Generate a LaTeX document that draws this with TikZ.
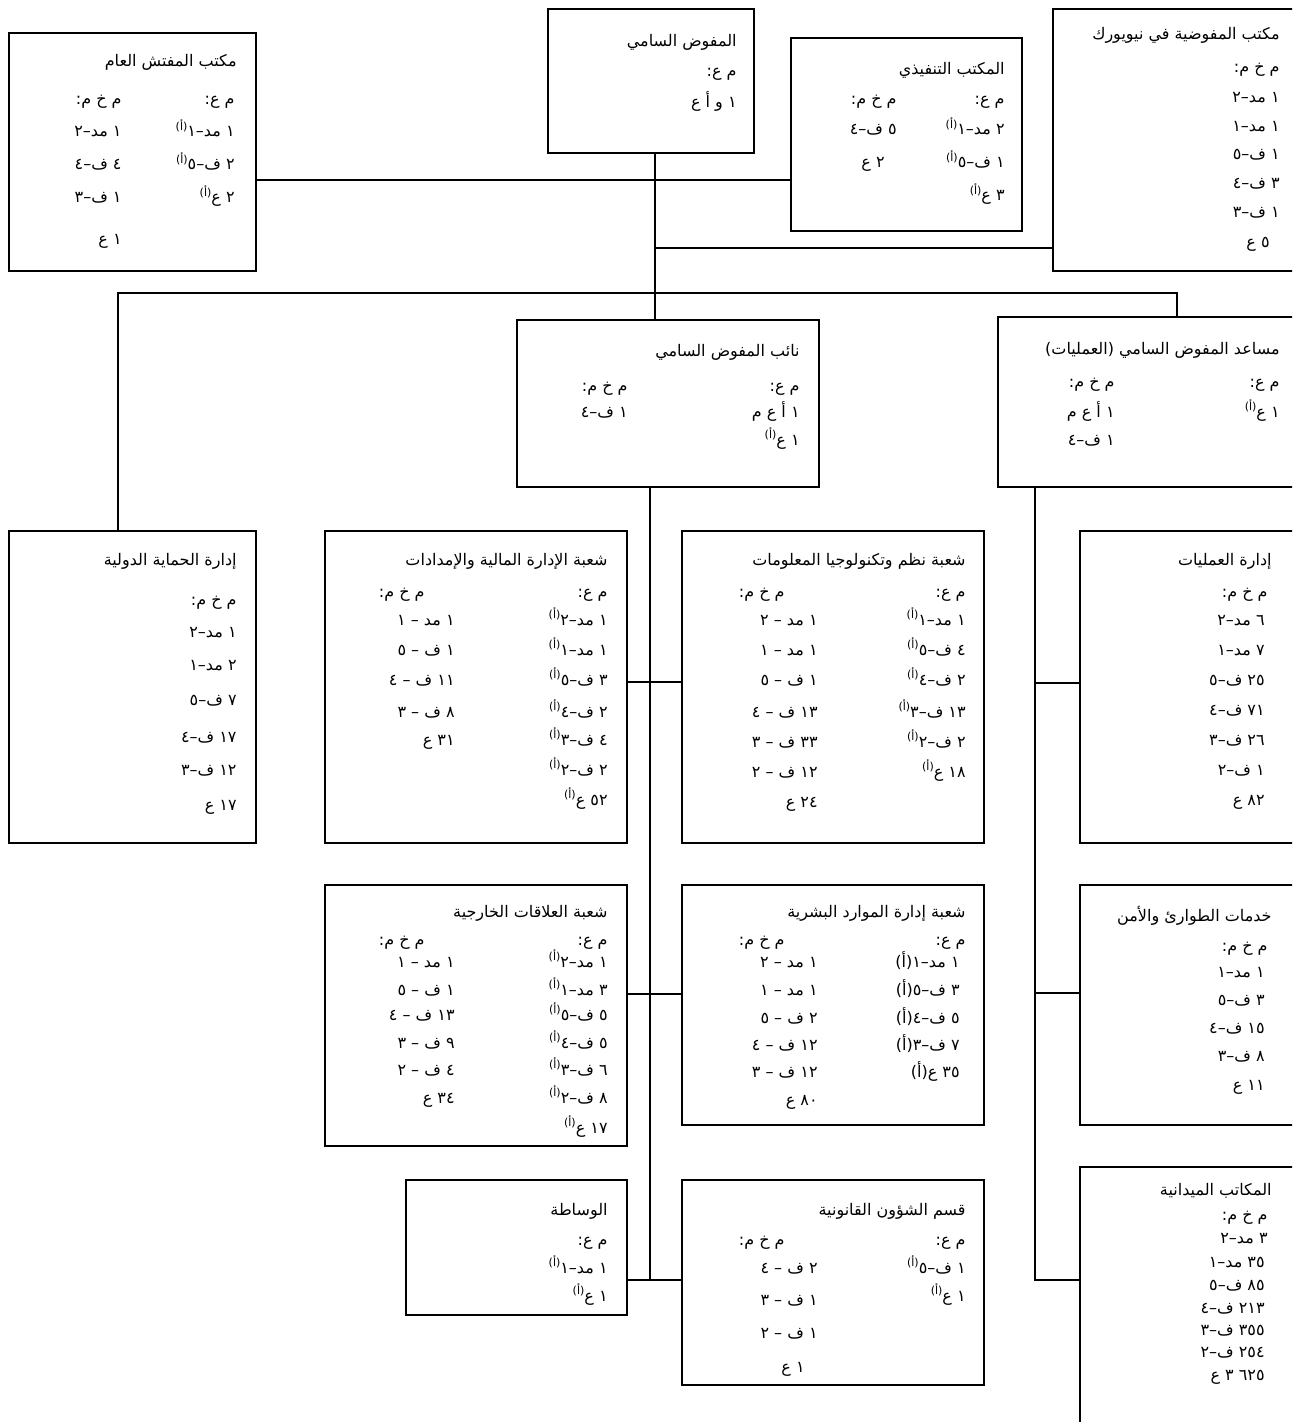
\documentclass[tikz,border=0pt]{standalone}
\usepackage{fontspec}
\TeXXeTstate=1
\newfontfamily\arabicfont[Script=Arabic]{DejaVu Sans}
\newcommand\footA{\raisebox{0.7ex}{\fontsize{5.5}{6}\selectfont(أ)}}
\newcommand\txtset[2]{\foreach \xx/\yy/\lbltext [count=\i] in {#2} {\node[lbl] (#1\i) at (\xx,{\yy+5}) {\lbltext};}}
\newcommand\bx[5]{\node[box, minimum width={(#4-#2)*0.5pt}, minimum height={(#5-#3)*0.5pt}] (#1) at ({(#2+#4)/2},{(#3+#5)/2}) {};}
\begin{document}
\begin{tikzpicture}[x=0.5pt,y=-0.5pt,
  lbl/.style={anchor=base east, inner sep=0pt, font=\arabicfont\fontsize{8}{9}\selectfont},
  box/.style={draw, line width=1pt, inner sep=0pt},
  conn/.style={line width=1pt}]
\useasboundingbox (0,0) rectangle (1292,1422);
\clip (0,0) rectangle (1292,1422);
% boxes
\bx{ig}{9}{33}{256}{271}
\bx{hc}{548}{9}{754}{153}
\bx{eo}{791}{38}{1022}{231}
\bx{ny}{1053}{9}{1320}{271}
\bx{dhc}{517}{320}{819}{487}
\bx{ahc}{998}{317}{1320}{487}
\bx{dip}{9}{531}{256}{843}
\bx{dfam}{325}{531}{627}{843}
\bx{dist}{682}{531}{984}{843}
\bx{dos}{1080}{531}{1320}{843}
\bx{der}{325}{885}{627}{1146}
\bx{dhrm}{682}{885}{984}{1125}
\bx{ess}{1080}{885}{1320}{1125}
\bx{med}{406}{1180}{627}{1315}
\bx{las}{682}{1180}{984}{1385}
\bx{fo}{1080}{1167}{1320}{1450}
% texts
\txtset{igt}{237/62/\beginR مكتب المفتش العام\endR, 235/100/\beginR م ع:\endR, 122/100/\beginR م خ م:\endR, 235/132/\beginR ١ مد–١\footA\endR, 122/132/\beginR ١ مد–٢\endR, 235/165/\beginR ٢ ف–٥\footA\endR, 122/165/\beginR ٤ ف–٤\endR, 235/198/\beginR ٢ ع\footA\endR, 122/198/\beginR ١ ف–٣\endR, 122/240/\beginR ١ ع\endR}
\txtset{hct}{737/42/\beginR المفوض السامي\endR, 737/72/\beginR م ع:\endR, 737/103/\beginR ١ و أ ع\endR}
\txtset{eot}{1005/70/\beginR المكتب التنفيذي\endR, 1005/100/\beginR م ع:\endR, 897/100/\beginR م خ م:\endR, 1005/130/\beginR ٢ مد–١\footA\endR, 897/130/\beginR ٥ ف–٤\endR, 1005/163/\beginR ١ ف–٥\footA\endR, 885/163/\beginR ٢ ع\endR, 1005/196/\beginR ٣ ع\footA\endR}
\txtset{nyt}{1280/35/\beginR مكتب المفوضية في نيويورك\endR, 1280/68/\beginR م خ م:\endR, 1280/98/\beginR ١ مد–٢\endR, 1280/127/\beginR ١ مد–١\endR, 1280/155/\beginR ١ ف–٥\endR, 1280/184/\beginR ٣ ف–٤\endR, 1280/213/\beginR ١ ف–٣\endR, 1270/243/\beginR ٥ ع\endR}
\txtset{dhct}{800/352/\beginR نائب المفوض السامي\endR, 800/387/\beginR م ع:\endR, 628/387/\beginR م خ م:\endR, 800/413/\beginR ١ أ ع م\endR, 628/413/\beginR ١ ف–٤\endR, 800/440/\beginR ١ ع\footA\endR}
\txtset{ahct}{1280/350/\beginR مساعد المفوض السامي (العمليات)\endR, 1280/383/\beginR م ع:\endR, 1115/383/\beginR م خ م:\endR, 1280/412/\beginR ١ ع\footA\endR, 1115/412/\beginR ١ أ ع م\endR, 1115/440/\beginR ١ ف–٤\endR}
\txtset{dipt}{237/560/\beginR إدارة الحماية الدولية\endR, 237/600/\beginR م خ م:\endR, 237/632/\beginR ١ مد–٢\endR, 237/665/\beginR ٢ مد–١\endR, 237/700/\beginR ٧ ف–٥\endR, 237/737/\beginR ١٧ ف–٤\endR, 237/770/\beginR ١٢ ف–٣\endR, 237/805/\beginR ١٧ ع\endR}
\txtset{dfamt}{608/560/\beginR شعبة الإدارة المالية والإمدادات\endR, 608/592/\beginR م ع:\endR, 425/592/\beginR م خ م:\endR, 608/620/\beginR ١ مد–٢\footA\endR, 608/650/\beginR ١ مد–١\footA\endR, 608/680/\beginR ٣ ف–٥\footA\endR, 608/712/\beginR ٢ ف–٤\footA\endR, 608/740/\beginR ٤ ف–٣\footA\endR, 608/770/\beginR ٢ ف–٢\footA\endR, 608/800/\beginR ٥٢ ع\footA\endR, 455/620/\beginR ١ مد – ١\endR, 455/650/\beginR ١ ف – ٥\endR, 455/680/\beginR ١١ ف – ٤\endR, 455/712/\beginR ٨ ف – ٣\endR, 455/740/\beginR ٣١ ع\endR}
\txtset{distt}{966/560/\beginR شعبة نظم وتكنولوجيا المعلومات\endR, 966/592/\beginR م ع:\endR, 785/592/\beginR م خ م:\endR, 966/620/\beginR ١ مد–١\footA\endR, 966/650/\beginR ٤ ف–٥\footA\endR, 966/680/\beginR ٢ ف–٤\footA\endR, 966/712/\beginR ١٣ ف–٣\footA\endR, 966/742/\beginR ٢ ف–٢\footA\endR, 966/772/\beginR ١٨ ع\footA\endR, 818/620/\beginR ١ مد – ٢\endR, 818/650/\beginR ١ مد – ١\endR, 818/680/\beginR ١ ف – ٥\endR, 818/712/\beginR ١٣ ف – ٤\endR, 818/742/\beginR ٣٣ ف – ٣\endR, 818/772/\beginR ١٢ ف – ٢\endR, 818/802/\beginR ٢٤ ع\endR}
\txtset{dost}{1272/560/\beginR إدارة العمليات\endR, 1268/592/\beginR م خ م:\endR, 1265/620/\beginR ٦ مد–٢\endR, 1265/650/\beginR ٧ مد–١\endR, 1265/680/\beginR ٢٥ ف–٥\endR, 1265/710/\beginR ٧١ ف–٤\endR, 1265/740/\beginR ٢٦ ف–٣\endR, 1265/770/\beginR ١ ف–٢\endR, 1265/800/\beginR ٨٢ ع\endR}
\txtset{dert}{608/912/\beginR شعبة العلاقات الخارجية\endR, 608/940/\beginR م ع:\endR, 425/940/\beginR م خ م:\endR, 608/962/\beginR ١ مد–٢\footA\endR, 608/990/\beginR ٣ مد–١\footA\endR, 608/1015/\beginR ٥ ف–٥\footA\endR, 608/1043/\beginR ٥ ف–٤\footA\endR, 608/1070/\beginR ٦ ف–٣\footA\endR, 608/1098/\beginR ٨ ف–٢\footA\endR, 608/1128/\beginR ١٧ ع\footA\endR, 455/962/\beginR ١ مد – ١\endR, 455/990/\beginR ١ ف – ٥\endR, 455/1015/\beginR ١٣ ف – ٤\endR, 455/1043/\beginR ٩ ف – ٣\endR, 455/1070/\beginR ٤ ف – ٢\endR, 455/1098/\beginR ٣٤ ع\endR}
\txtset{dhrmt}{966/912/\beginR شعبة إدارة الموارد البشرية\endR, 966/940/\beginR م ع:\endR, 785/940/\beginR م خ م:\endR, 960/962/\beginR ١ مد–١(أ)\endR, 960/990/\beginR ٣ ف–٥(أ)\endR, 960/1018/\beginR ٥ ف–٤(أ)\endR, 960/1045/\beginR ٧ ف–٣(أ)\endR, 960/1072/\beginR ٣٥ ع(أ)\endR, 818/962/\beginR ١ مد – ٢\endR, 818/990/\beginR ١ مد – ١\endR, 818/1018/\beginR ٢ ف – ٥\endR, 818/1045/\beginR ١٢ ف – ٤\endR, 818/1072/\beginR ١٢ ف – ٣\endR, 818/1100/\beginR ٨٠ ع\endR}
\txtset{esst}{1272/916/\beginR خدمات الطوارئ والأمن\endR, 1268/946/\beginR م خ م:\endR, 1265/972/\beginR ١ مد–١\endR, 1265/1000/\beginR ٣ ف–٥\endR, 1265/1028/\beginR ١٥ ف–٤\endR, 1265/1056/\beginR ٨ ف–٣\endR, 1265/1085/\beginR ١١ ع\endR}
\txtset{medt}{608/1210/\beginR الوساطة\endR, 608/1240/\beginR م ع:\endR, 608/1268/\beginR ١ مد–١\footA\endR, 608/1296/\beginR ١ ع\footA\endR}
\txtset{last}{966/1210/\beginR قسم الشؤون القانونية\endR, 966/1240/\beginR م ع:\endR, 785/1240/\beginR م خ م:\endR, 966/1268/\beginR ١ ف–٥\footA\endR, 966/1296/\beginR ١ ع\footA\endR, 818/1268/\beginR ٢ ف – ٤\endR, 818/1300/\beginR ١ ف – ٣\endR, 818/1333/\beginR ١ ف – ٢\endR, 805/1367/\beginR ١ ع\endR}
\txtset{fot}{1272/1190/\beginR المكاتب الميدانية\endR, 1268/1215/\beginR م خ م:\endR, 1268/1238/\beginR ٣ مد–٢\endR, 1265/1262/\beginR ٣٥ مد–١\endR, 1265/1285/\beginR ٨٥ ف–٥\endR, 1265/1308/\beginR ٢١٣ ف–٤\endR, 1265/1330/\beginR ٣٥٥ ف–٣\endR, 1265/1352/\beginR ٢٥٤ ف–٢\endR, 1265/1375/\beginR\beginL٣ ٦٢٥\endL{} ع\endR}
% connectors
\coordinate (sp) at (655,180);
\coordinate (nyj) at (655,248);
\coordinate (tl) at (118,293);
\coordinate (tr) at (1177,293);
\coordinate (sp2) at (650,1280);
\coordinate (k1) at (650,682);
\coordinate (k2) at (650,994);
\coordinate (sp3) at (1035,1280);
\coordinate (k3) at (1035,683);
\coordinate (k4) at (1035,993);
\draw[conn] (hc.south -| sp) -- (dhc.north -| sp);
\draw[conn] (ig.east |- sp) -- (eo.west |- sp);
\draw[conn] (nyj) -- (ny.west |- nyj);
\draw[conn] (dip.north -| tl) -- (tl) -- (tr) -- (ahc.north -| tr);
\draw[conn] (dhc.south -| sp2) -- (sp2);
\draw[conn] (dfam.east |- k1) -- (dist.west |- k1);
\draw[conn] (der.east |- k2) -- (dhrm.west |- k2);
\draw[conn] (med.east |- sp2) -- (las.west |- sp2);
\draw[conn] (ahc.south -| sp3) -- (sp3) -- (fo.west |- sp3);
\draw[conn] (k3) -- (dos.west |- k3);
\draw[conn] (k4) -- (ess.west |- k4);
\end{tikzpicture}
\end{document}
